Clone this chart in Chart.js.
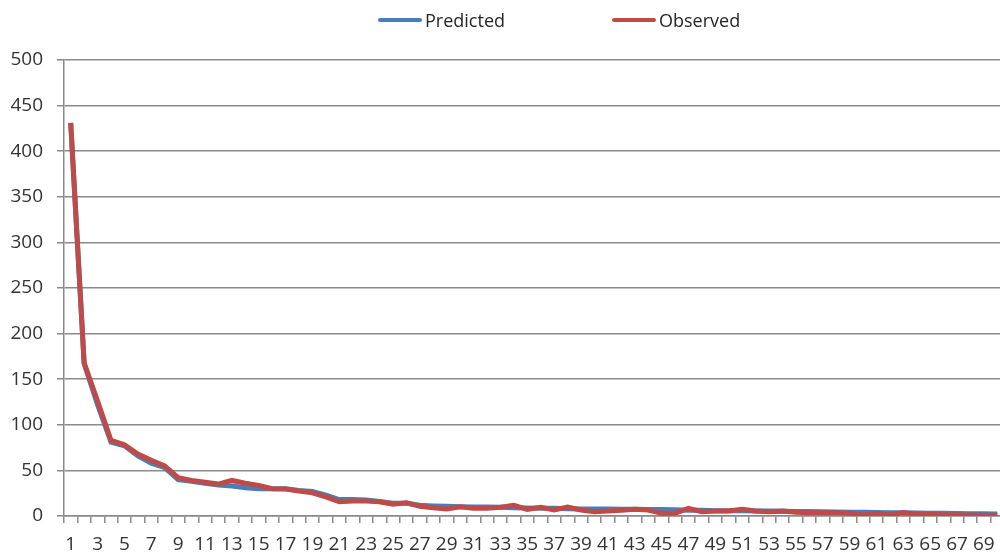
<!DOCTYPE html>
<html>
<head>
<meta charset="utf-8">
<script src="https://cdn.jsdelivr.net/npm/chart.js@4"></script>
<style>
  html, body { margin: 0; padding: 0; background: #fff; overflow: hidden; }
  #wrap { position: relative; width: 1010px; height: 554px; }
  #legend { position: absolute; top: 8px; left: 378px; display: flex; font-family: "Open Sans", sans-serif; font-size: 18px; color: #262626; }
  #legend .item { display: flex; align-items: center; width: 234px; height: 24px; }
  #legend .swatch { width: 44px; height: 4px; border-radius: 2px; margin-right: 3px; }
</style>
</head>
<body>
<div id="wrap">
  <canvas id="chart" width="1010" height="554"></canvas>
  <div id="legend"></div>
</div>
<script>
// ---------------- data ----------------
const categories = [];
for (let i = 1; i <= 70; i++) categories.push(String(i));

const predicted = [
  431, 167, 122, 81, 77, 66, 58, 53, 40, 38,
  36, 34, 33, 31, 30, 30, 30, 28, 27, 23,
  18, 18, 17.5, 16, 14, 14, 11.7, 11, 10.6, 10.2,
  9.9, 9.9, 9.5, 9.1, 8.8, 8.4, 8.4, 8, 7.7, 7.7,
  7.7, 7.3, 7.3, 7, 7, 6.8, 6.2, 6.2, 5.8, 5.8,
  5.8, 5.5, 5.5, 5.3, 5, 4.8, 4.6, 4.4, 4.2, 4,
  3.8, 3.7, 3.5, 3.3, 3.1, 2.9, 2.7, 2.6, 2.4, 2.3
];

const observed = [
  431, 168, 126, 83, 78, 68, 61, 55, 42, 39,
  37, 35, 39, 36, 33.5, 30, 29.5, 27.5, 25.5, 21,
  15.7, 16.4, 16.4, 15.7, 12.8, 14.6, 10.6, 9.1, 7.7, 10.2,
  8.4, 8.4, 9.5, 11.7, 7.3, 9.5, 6.6, 9.9, 6.6, 4.8,
  5.5, 6.2, 7.3, 6.6, 2.9, 3.1, 8.4, 4.8, 5.5, 5.5,
  7.3, 5.5, 4.8, 5.5, 4, 3.7, 3.7, 3.7, 2.9, 1.1,
  2.6, 1.1, 3.7, 1.8, 1.8, 1.5, 1.5, 1.1, 0.7, 0.7
];

const yTicks = { min: 0, max: 500, step: 50 };

const seriesNames = ['Predicted', 'Observed'];
const seriesColors = ['#4a7ebb', '#be4b48'];

// ---------------- chart ----------------
const axisGray = '#8a8a8a';
const tickFont = { family: '"Open Sans", sans-serif', size: 19 };

const chart = new Chart(document.getElementById('chart'), {
  type: 'line',
  data: {
    labels: categories,
    datasets: [
      { label: seriesNames[0], data: predicted, borderColor: seriesColors[0], backgroundColor: seriesColors[0], borderWidth: 5, pointRadius: 0, tension: 0, order: 1 },
      { label: seriesNames[1], data: observed, borderColor: seriesColors[1], backgroundColor: seriesColors[1], borderWidth: 5, pointRadius: 0, tension: 0, order: 0 }
    ]
  },
  options: {
    responsive: false,
    animation: false,
    layout: { padding: { top: 60, right: 6, left: 0, bottom: 0 } },
    plugins: { legend: { display: false }, tooltip: { enabled: false } },
    scales: {
      x: {
        offset: true,
        grid: { offset: true, drawOnChartArea: false, drawTicks: true, tickLength: 7, color: axisGray, lineWidth: 1.5 },
        border: { display: true, color: axisGray, width: 1.5 },
        ticks: {
          autoSkip: false, maxRotation: 0, minRotation: 0, padding: 10,
          color: '#333333', font: tickFont,
          callback: (v, i) => (i % 2 === 0 ? categories[i] : '')
        },
        afterFit: (s) => { s.height = 38; }
      },
      y: {
        min: yTicks.min, max: yTicks.max,
        grid: { color: axisGray, lineWidth: 1.5, tickLength: 7 },
        border: { display: true, color: axisGray, width: 1.5 },
        ticks: { stepSize: yTicks.step, padding: 14, color: '#333333', font: tickFont },
        afterFit: (s) => { s.width = 64; }
      }
    }
  }
});

// ---------------- legend ----------------
const legendEl = document.getElementById('legend');
chart.data.datasets.forEach(ds => {
  const item = document.createElement('div');
  item.className = 'item';
  const sw = document.createElement('span');
  sw.className = 'swatch';
  sw.style.background = ds.borderColor;
  const txt = document.createElement('span');
  txt.textContent = ds.label;
  item.appendChild(sw);
  item.appendChild(txt);
  legendEl.appendChild(item);
});
</script>
</body>
</html>
